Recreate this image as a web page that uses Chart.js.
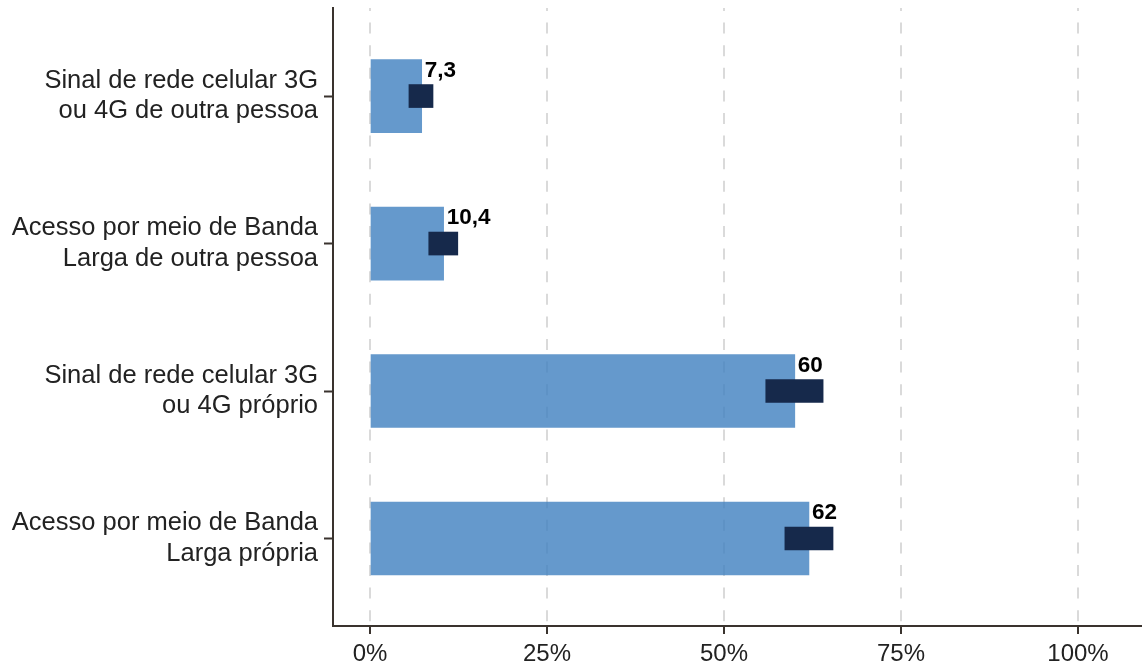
<!DOCTYPE html>
<html lang="pt-BR">
<head>
<meta charset="utf-8">
<title>Tipo de conexão</title>
<script src="https://cdn.jsdelivr.net/npm/chart.js@4.4.1/dist/chart.umd.min.js"></script>
<style>
    html, body { margin: 0; padding: 0; background: #fff; }
    #wrap { width: 1142px; height: 667px; position: relative; }
</style>
</head>
<body>
<div id="wrap"><canvas id="conexaoChart"></canvas></div>
<script>
// Categorias (de cima para baixo)
const categorias = [
    ['Sinal de rede celular 3G', 'ou 4G de outra pessoa'],
    ['Acesso por meio de Banda', 'Larga de outra pessoa'],
    ['Sinal de rede celular 3G', 'ou 4G próprio'],
    ['Acesso por meio de Banda', 'Larga própria']
];
const posicoes = [1, 2, 3, 4];

// Valores (%) e intervalo de confiança
const valores = [7.3, 10.4, 60, 62];
const limiteInferior = [5.5, 8.3, 55.9, 58.6];
const limiteSuperior = [8.9, 12.4, 64.0, 65.4];

// Ticks do eixo x
const ticksX = [0, 25, 50, 75, 100];

// Cores
const cores = {
    barra: 'rgba(62, 128, 191, 0.8)',
    intervalo: '#16294B',
    eixo: '#3A332E',
    grade: '#DADADA',
    texto: '#222222'
};

const dadosBarras = posicoes.map((p, i) => ({ x: valores[i], y: p }));
const dadosIntervalo = posicoes.map((p, i) => ({ x: [limiteInferior[i], limiteSuperior[i]], y: p }));

// Rótulos de valor no fim de cada barra
const rotulosValor = {
    id: 'rotulosValor',
    afterDatasetsDraw(chart) {
        const meta = chart.getDatasetMeta(1);
        const ctx = chart.ctx;
        ctx.save();
        ctx.font = 'bold 22.5px "Liberation Sans", Arial, sans-serif';
        ctx.fillStyle = '#000';
        ctx.textAlign = 'left';
        ctx.textBaseline = 'alphabetic';
        meta.data.forEach((bar, i) => {
            const topo = bar.y - bar.height / 2;
            const texto = String(valores[i]).replace('.', ',');
            ctx.fillText(texto, bar.x + 3, topo + 17);
        });
        ctx.restore();
    }
};

new Chart(document.getElementById('conexaoChart'), {
    type: 'bar',
    data: {
        datasets: [
            {
                label: 'Intervalo',
                data: dadosIntervalo,
                backgroundColor: cores.intervalo,
                barThickness: 23,
                grouped: false,
                order: 0
            },
            {
                label: 'Percentual',
                data: dadosBarras,
                backgroundColor: cores.barra,
                barThickness: 73,
                grouped: false,
                order: 1
            }
        ]
    },
    options: {
        indexAxis: 'y',
        responsive: true,
        maintainAspectRatio: false,
        animation: false,
        layout: { padding: { top: 8, right: 0, bottom: 0, left: 0 } },
        plugins: {
            legend: { display: false },
            tooltip: { enabled: false }
        },
        scales: {
            x: {
                type: 'linear',
                min: -5.226,
                max: 109.04,
                afterBuildTicks: (scale) => {
                    scale.ticks = ticksX.map(v => ({ value: v }));
                },
                afterFit: (scale) => {
                    scale.height = 41;
                    scale.paddingLeft = 0;
                    scale.paddingRight = 0;
                },
                grid: {
                    color: cores.grade,
                    lineWidth: 2,
                    drawTicks: true,
                    tickLength: 8,
                    tickColor: cores.eixo,
                    tickWidth: 2
                },
                border: {
                    display: true,
                    color: cores.eixo,
                    width: 2,
                    dash: [11, 11.6],
                    dashOffset: 8
                },
                ticks: {
                    color: cores.texto,
                    padding: 6,
                    maxRotation: 0,
                    font: { family: '"Liberation Sans", Arial, sans-serif', size: 24 },
                    callback: (v) => v + '%'
                }
            },
            y: {
                type: 'linear',
                reverse: true,
                offset: false,
                min: 0.403,
                max: 4.593,
                afterBuildTicks: (scale) => {
                    scale.ticks = posicoes.map(v => ({ value: v }));
                },
                afterFit: (scale) => {
                    scale.width = 333;
                    scale.paddingTop = 0;
                    scale.paddingBottom = 0;
                },
                grid: {
                    offset: false,
                    drawOnChartArea: false,
                    drawTicks: true,
                    tickLength: 9,
                    tickColor: cores.eixo,
                    tickWidth: 2
                },
                border: {
                    display: true,
                    color: cores.eixo,
                    width: 2
                },
                ticks: {
                    color: cores.texto,
                    padding: 6,
                    autoSkip: false,
                    font: { family: '"Liberation Sans", Arial, sans-serif', size: 25.5, lineHeight: 1.2 },
                    callback: (v) => categorias[posicoes.indexOf(v)]
                }
            }
        }
    },
    plugins: [rotulosValor]
});
</script>
</body>
</html>
